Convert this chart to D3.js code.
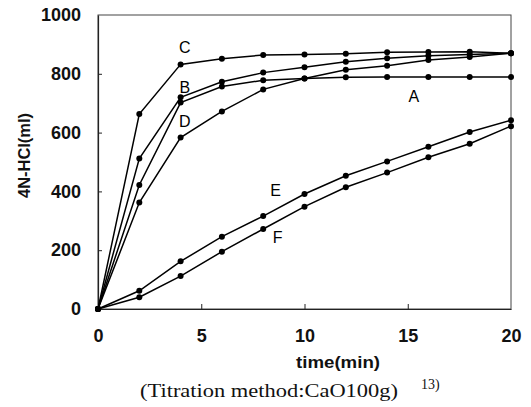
<!DOCTYPE html>
<html>
<head>
<meta charset="utf-8">
<script src="https://cdn.jsdelivr.net/npm/d3@7"></script>
<style>
  html, body { margin: 0; padding: 0; background: #fff; }
  svg { display: block; }
</style>
</head>
<body>
<svg id="chart" width="531" height="407"></svg>
<script>
// Sampling times (min)
const times = [0, 2, 4, 6, 8, 10, 12, 14, 16, 18, 20];

// Volume of 4N-HCl consumed (ml) for each sample
const seriesA = [0, 422, 702, 757, 778, 784, 788, 789, 789, 789, 789];
const seriesB = [0, 512, 720, 773, 804, 822, 841, 853, 861, 866, 870];
const seriesC = [0, 663, 832, 851, 864, 866, 868, 873, 874, 875, 870];
const seriesD = [0, 362, 583, 672, 747, 784, 814, 827, 847, 857, 870];
const seriesE = [0, 62, 162, 246, 316, 391, 453, 502, 552, 602, 642];
const seriesF = [0, 40, 112, 195, 272, 348, 414, 464, 516, 562, 622];

const seriesNames = ["A", "B", "C", "D", "E", "F"];
const seriesValues = [seriesA, seriesB, seriesC, seriesD, seriesE, seriesF];

// Where each curve's letter sits, in data units
const labelTime = { A: 15.3, B: 4.2, C: 4.2, D: 4.2, E: 8.6, F: 8.7 };
const labelValue = { A: 720, B: 750, C: 885, D: 635, E: 398, F: 238 };

const xTicks = [0, 5, 10, 15, 20];
const yTicks = [0, 200, 400, 600, 800, 1000];

const svg = d3.select("#chart");
const margin = { left: 98, right: 20, top: 15, bottom: 98 };
const W = 531, H = 407;

const x = d3.scaleLinear().domain([0, 20]).range([margin.left, W - margin.right]);
const y = d3.scaleLinear().domain([0, 1000]).range([H - margin.bottom, margin.top]);

const tickFont = "'Liberation Sans', Arial, sans-serif";

// Plot frame
svg.append("rect")
  .attr("x", x(0)).attr("y", y(1000))
  .attr("width", x(20) - x(0)).attr("height", y(0) - y(1000))
  .attr("fill", "none").attr("stroke", "#444").attr("stroke-width", 1);

// Axes with short inward ticks
const xAxis = svg.append("g")
  .attr("transform", `translate(0,${y(0)})`)
  .call(d3.axisBottom(x).tickValues(xTicks).tickFormat(d3.format("d"))
    .tickSizeInner(-5).tickSizeOuter(0).tickPadding(20));
const yAxis = svg.append("g")
  .attr("transform", `translate(${x(0)},0)`)
  .call(d3.axisLeft(y).tickValues(yTicks).tickFormat(d3.format("d"))
    .tickSizeInner(-4).tickSizeOuter(0).tickPadding(17));

[xAxis, yAxis].forEach(g => {
  g.select(".domain").attr("stroke", "#222").attr("stroke-width", 1.2);
  g.selectAll(".tick line").attr("stroke", "#222");
  g.selectAll(".tick text")
    .attr("font-family", tickFont)
    .attr("font-weight", "bold")
    .attr("font-size", 18)
    .attr("fill", "#111");
});
xAxis.selectAll(".tick").filter(d => d === 0 || d === 20).select("line").remove();
yAxis.selectAll(".tick").filter(d => d === 0 || d === 1000).select("line").remove();

// Curves
const line = d3.line().x((d, i) => x(times[i])).y(d => y(d));

seriesValues.forEach((vals, k) => {
  const g = svg.append("g").attr("class", "series-" + seriesNames[k]);
  g.append("path")
    .attr("d", line(vals))
    .attr("fill", "none")
    .attr("stroke", "#000")
    .attr("stroke-width", 1.5);
  g.selectAll("circle")
    .data(vals)
    .join("circle")
    .attr("cx", (d, i) => x(times[i]))
    .attr("cy", d => y(d))
    .attr("r", 3)
    .attr("fill", "#000");
});

// Curve letters
seriesNames.forEach(n => {
  svg.append("text")
    .attr("x", x(labelTime[n]))
    .attr("y", y(labelValue[n]))
    .attr("text-anchor", "middle")
    .attr("dominant-baseline", "middle")
    .attr("font-family", tickFont)
    .attr("font-size", 16)
    .attr("fill", "#000")
    .text(n);
});

// Axis titles
svg.append("text")
  .attr("x", 296).attr("y", 368)
  .attr("textLength", 84)
  .attr("lengthAdjust", "spacingAndGlyphs")
  .attr("font-family", tickFont)
  .attr("font-weight", "bold")
  .attr("font-size", 16)
  .attr("fill", "#111")
  .text("time(min)");

svg.append("text")
  .attr("transform", "translate(30,198) rotate(-90)")
  .attr("textLength", 85)
  .attr("lengthAdjust", "spacingAndGlyphs")
  .attr("font-family", tickFont)
  .attr("font-weight", "bold")
  .attr("font-size", 16)
  .attr("fill", "#111")
  .text("4N-HCl(ml)");

// Caption with reference mark
svg.append("text")
  .attr("x", 140).attr("y", 397)
  .attr("textLength", 258)
  .attr("lengthAdjust", "spacingAndGlyphs")
  .attr("font-family", "'Liberation Serif', 'Times New Roman', serif")
  .attr("font-size", 19)
  .attr("fill", "#111")
  .text("(Titration method:CaO100g)");
svg.append("text")
  .attr("x", 421).attr("y", 389)
  .attr("font-family", "'Liberation Serif', 'Times New Roman', serif")
  .attr("font-size", 14)
  .attr("fill", "#111")
  .text("13)");
</script>
</body>
</html>
